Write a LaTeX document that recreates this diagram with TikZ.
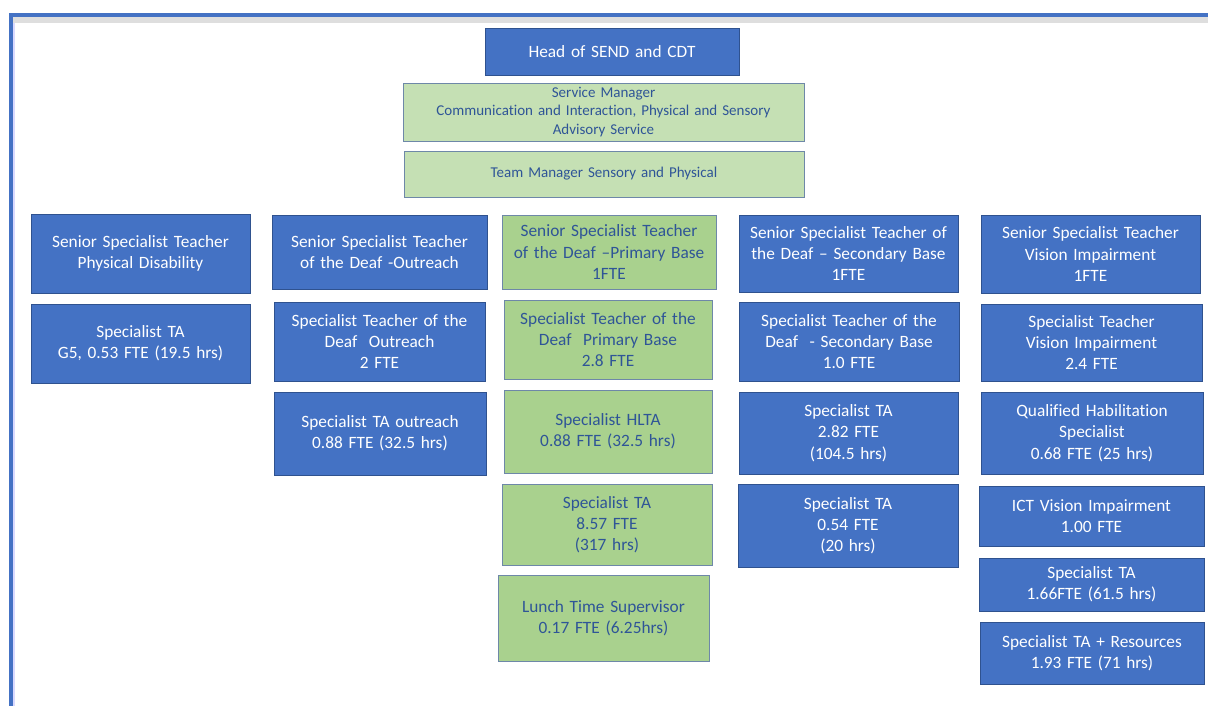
\documentclass[tikz,border=0pt]{standalone}
\usepackage{fontspec}
\setmainfont[Ligatures={NoCommon}]{Carlito}
\definecolor{bfill}{HTML}{4472C4}
\definecolor{bline}{HTML}{2F528F}
\definecolor{gfill}{HTML}{A9D18E}
\definecolor{lgfill}{HTML}{C5E0B4}
\definecolor{gtext}{HTML}{2F5597}
\definecolor{gline}{HTML}{6E88A8}
\definecolor{framegrey}{HTML}{DEDEDE}
\tikzset{
  box/.style={draw=bline, line width=0.8pt, inner sep=1pt, align=center, font=\fontsize{17.3}{21.3}\selectfont},
  bluebox/.style={box, fill=bfill, text=white},
  greenbox/.style={box, fill=gfill, text=gtext, draw=gline},
  lgreenbox/.style={box, fill=lgfill, text=gtext, draw=gline, font=\fontsize{15}{18.3}\selectfont},
}
\newcommand\bx[7]{%
  \node[#6, minimum width={#4pt-#2pt}, minimum height={#5pt-#3pt}, text width={#4pt-#2pt-4pt}]
    (#1) at ({(#2+#4)/2},{(#3+#5)/2}) {#7};}
\begin{document}
\begin{tikzpicture}[x=1pt,y=-1pt]
\useasboundingbox (0,0) rectangle (1208,706);
% frame
\fill[framegrey] (13,17) rectangle (1208,23);
\fill[bfill] (8.7,13) rectangle (1208,17);
\fill[bfill] (8.7,13) rectangle (13.3,706);
\fill[blue!15] (13.3,23) rectangle (14.6,706);
% top
\bx{head}{485}{28}{739}{75}{bluebox}{Head of SEND and CDT}
\bx{svc}{403}{83}{804}{141}{lgreenbox}{Service Manager\\Communication and Interaction, Physical and Sensory\\Advisory Service}
\bx{team}{404}{151}{804}{197}{lgreenbox}{Team Manager Sensory and Physical}
% column 1
\bx{pd}{31}{214}{250}{293}{bluebox}{Senior Specialist Teacher\\Physical Disability}
\bx{pdta}{31}{304}{250}{383}{bluebox}{Specialist TA\\G5, 0.53 FTE (19.5 hrs)}
% column 2
\bx{out}{272}{215}{487}{289}{bluebox}{Senior Specialist Teacher\\of the Deaf -Outreach}
\bx{outst}{274}{302}{485}{381}{bluebox}{Specialist Teacher of the\\Deaf\ \ Outreach\\2 FTE}
\bx{outta}{274}{392}{486}{475}{bluebox}{Specialist TA outreach\\0.88 FTE (32.5 hrs)}
% column 3
\bx{pri}{502}{215}{716}{289}{greenbox}{Senior Specialist Teacher\\of the Deaf --Primary Base\\1FTE}
\bx{prist}{504}{300}{712}{379}{greenbox}{Specialist Teacher of the\\Deaf\ \ Primary Base\\2.8 FTE}
\bx{hlta}{504}{390}{712}{473}{greenbox}{Specialist HLTA\\0.88 FTE (32.5 hrs)}
\bx{prita}{502}{484}{712}{565}{greenbox}{Specialist TA\\8.57 FTE\\(317 hrs)}
\bx{lunch}{498}{575}{709}{661}{greenbox}{Lunch Time Supervisor\\0.17 FTE (6.25hrs)}
% column 4
\bx{sec}{739}{215}{958}{292}{bluebox}{Senior Specialist Teacher of\\the Deaf -- Secondary Base\\1FTE}
\bx{secst}{739}{302}{959}{381}{bluebox}{Specialist Teacher of the\\Deaf\ \ - Secondary Base\\1.0 FTE}
\bx{secta}{739}{392}{958}{474}{bluebox}{Specialist TA\\2.82 FTE\\(104.5 hrs)}
\bx{secta2}{738}{484}{958}{567}{bluebox}{Specialist TA\\0.54 FTE\\(20 hrs)}
% column 5
\bx{vi}{981}{215}{1200}{293}{bluebox}{Senior Specialist Teacher\\Vision Impairment\\1FTE}
\bx{vist}{981}{304}{1202}{381}{bluebox}{Specialist Teacher\\Vision Impairment\\2.4 FTE}
\bx{hab}{981}{392}{1203}{474}{bluebox}{Qualified Habilitation\\Specialist\\0.68 FTE (25 hrs)}
\bx{ict}{979}{486}{1204}{546}{bluebox}{ICT Vision Impairment\\1.00 FTE}
\bx{vita}{979}{558}{1204}{611}{bluebox}{Specialist TA\\1.66FTE (61.5 hrs)}
\bx{vitar}{980}{622}{1204}{684}{bluebox}{Specialist TA + Resources\\1.93 FTE (71 hrs)}
\end{tikzpicture}
\end{document}
